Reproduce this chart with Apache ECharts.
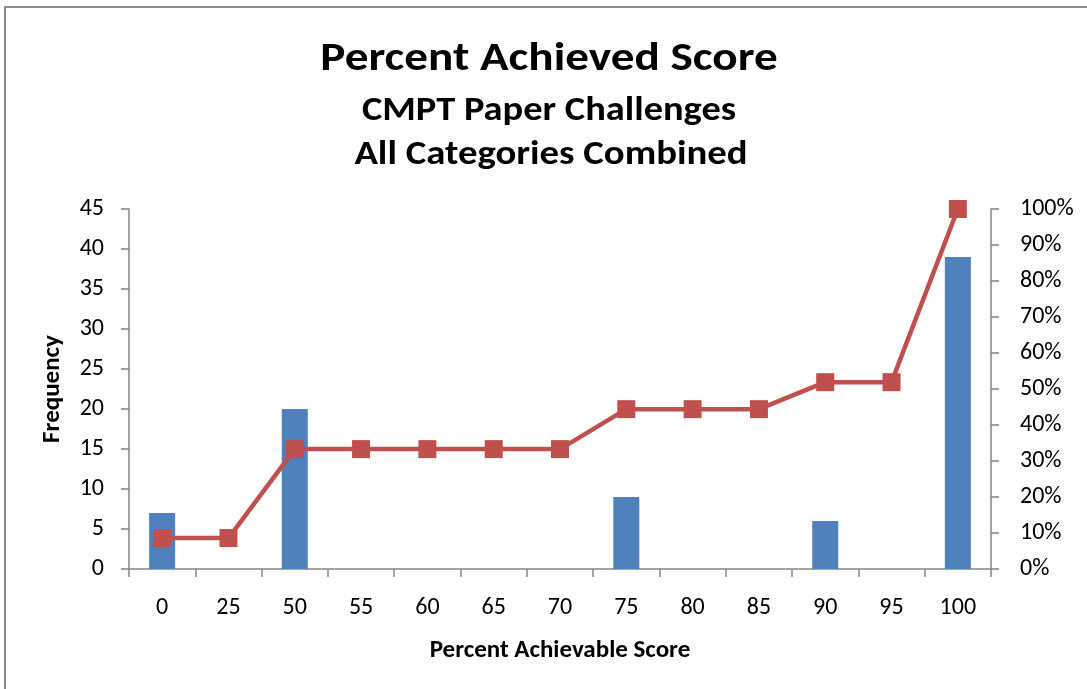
<!DOCTYPE html>
<html>
<head>
<meta charset="utf-8">
<script src="https://cdn.jsdelivr.net/npm/echarts@6/dist/echarts.min.js"></script>
<style>
  html, body { margin: 0; padding: 0; background: #fff; }
  #frame { position: absolute; left: 4px; top: 6px; width: 1200px; height: 800px;
           border: 2px solid #8c8c8c; box-sizing: border-box; }
  #chart { position: absolute; left: 0; top: 0; width: 1087px; height: 689px; }
</style>
</head>
<body>
<div id="frame"></div>
<div id="chart"></div>
<script>
// Score buckets (percent of achievable score)
const categories = ['0', '25', '50', '55', '60', '65', '70', '75', '80', '85', '90', '95', '100'];
// Number of papers in each bucket
const frequency = [7, 0, 20, 0, 0, 0, 0, 9, 0, 0, 6, 0, 39];
// Cumulative share of papers, in percent
const cumulativePct = [8.6, 8.6, 33.3, 33.3, 33.3, 33.3, 33.3, 44.4, 44.4, 44.4, 51.9, 51.9, 100];

const titleText = 'Percent Achieved Score';
const subtitleLines = ['CMPT Paper Challenges', 'All Categories Combined'];

const FONT = 'Carlito, Lato, "Liberation Sans", sans-serif';
const AXIS_COLOR = '#868686';

function headingText(text, x, y, size, sx) {
  return {
    type: 'text', x: x, y: y, scaleX: sx,
    style: { x: 0, y: 0, text: text, font: 'bold ' + size + 'px ' + FONT,
             fill: '#000', textAlign: 'center', textVerticalAlign: 'middle' }
  };
}

const chart = echarts.init(document.getElementById('chart'));
chart.setOption({
  animation: false,
  textStyle: { fontFamily: FONT },
  grid: { left: 129, right: 96, top: 209, bottom: 120, containLabel: false },
  graphic: [
    headingText(titleText, 549, 60, 40, 1.18),
    headingText(subtitleLines[0], 549, 111, 34, 1.13),
    headingText(subtitleLines[1], 551, 155, 34, 1.14)
  ],
  xAxis: {
    type: 'category',
    data: categories,
    boundaryGap: true,
    name: 'Percent Achievable Score',
    nameLocation: 'middle',
    nameGap: 69,
    nameTextStyle: { fontFamily: FONT, fontWeight: 'bold', fontSize: 25, color: '#000' },
    axisLine: { lineStyle: { color: AXIS_COLOR, width: 1.5 } },
    axisTick: { show: true, alignWithLabel: false, length: 8, lineStyle: { color: AXIS_COLOR, width: 1.5 } },
    axisLabel: { fontFamily: FONT, fontSize: 24, color: '#000', margin: 27, interval: 0 },
    splitLine: { show: false }
  },
  yAxis: [
    {
      type: 'value',
      min: 0, max: 45, interval: 5,
      name: 'Frequency',
      nameLocation: 'middle',
      nameGap: 64,
      nameRotate: 90,
      nameTextStyle: { fontFamily: FONT, fontWeight: 'bold', fontSize: 25, color: '#000' },
      axisLine: { show: true, lineStyle: { color: AXIS_COLOR, width: 1.5 } },
      axisTick: { show: true, length: 8, lineStyle: { color: AXIS_COLOR, width: 1.5 } },
      axisLabel: { fontFamily: FONT, fontSize: 24, color: '#000', margin: 25 },
      splitLine: { show: false }
    },
    {
      type: 'value',
      min: 0, max: 100, interval: 10,
      position: 'right',
      axisLine: { show: true, lineStyle: { color: AXIS_COLOR, width: 1.5 } },
      axisTick: { show: true, length: 8, lineStyle: { color: AXIS_COLOR, width: 1.5 } },
      axisLabel: { fontFamily: FONT, fontSize: 24, color: '#000', margin: 29, formatter: '{value}%' },
      splitLine: { show: false }
    }
  ],
  series: [
    {
      name: 'Frequency',
      type: 'bar',
      data: frequency,
      yAxisIndex: 0,
      barWidth: 26,
      itemStyle: { color: '#4F81BD' }
    },
    {
      name: 'Cumulative %',
      type: 'line',
      data: cumulativePct,
      yAxisIndex: 1,
      symbol: 'rect',
      symbolSize: 18,
      lineStyle: { color: '#C0504D', width: 4.5 },
      itemStyle: { color: '#C0504D' },
      z: 3
    }
  ]
});
</script>
</body>
</html>
